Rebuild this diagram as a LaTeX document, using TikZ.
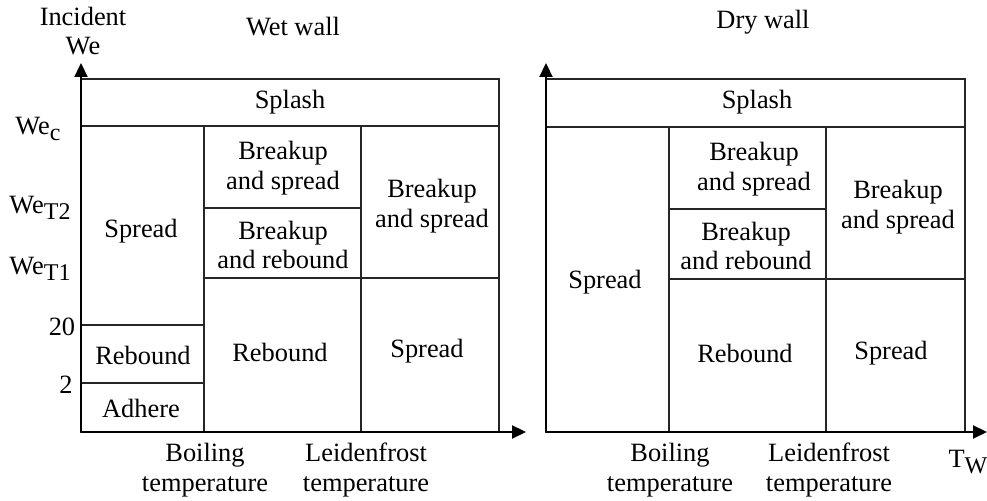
\documentclass[tikz,border=0pt]{standalone}
\usepackage{fontspec}
\setmainfont{Liberation Serif}
\usetikzlibrary{positioning, calc, arrows.meta}

\newcommand{\wesub}[2]{#1\raisebox{-0.55ex}{\fontsize{12}{12}\selectfont #2}}

\begin{document}
\begin{tikzpicture}[
			x=0.5pt, y=-0.5pt,
			region/.style={draw=black!85, line width=0.6pt},
			axis/.style={line width=1.1pt, -{Triangle[length=7pt,width=6.5pt]}},
			lbl/.style={font=\fontsize{13.2}{14.8}\selectfont, align=center, inner sep=0pt, yshift=-1pt}
			]
			
			\useasboundingbox (0,0) rectangle (987,501);
			
			% wet wall
			\coordinate (wo) at (81,432);
			\draw[region] (81,79) rectangle (499,432);
			\draw[region] (81,126) -- (499,126);
			\draw[region] (204,126) -- (204,432);
			\draw[region] (361,126) -- (361,432);
			\draw[region] (204,208) -- (361,208);
			\draw[region] (204,278) -- (499,278);
			\draw[region] (81,325) -- (204,325);
			\draw[region] (81,383) -- (204,383);
			\coordinate (wy) at (81,63);
			\coordinate (wx) at (526,432);
			\draw[axis] (wo) -- (wy);
			\draw[axis] (wo) -- (wx);
			
			\node[lbl] (wsplash) at (290,100) {Splash};
			\node[lbl] (wbs1) at (283,166) {Breakup\\and spread};
			\node[lbl] (wbr) at (283,243) {Breakup\\and rebound};
			\node[lbl] (wbs2) at (432,204) {Breakup\\and spread};
			\node[lbl] (wspread1) at (141,229) {Spread};
			\node[lbl] (wrebound1) at (143,353) {Rebound};
			\node[lbl] (wadhere) at (141,406) {Adhere};
			\node[lbl] (wrebound2) at (280,350) {Rebound};
			\node[lbl] (wspread2) at (427,349) {Spread};
			
			\node[lbl] (incident) at (83,29) {Incident\\We};
			\node[lbl] (wettitle) at (293,25) {Wet wall};
			\node[lbl] (wec) at (38,127) {\wesub{We}{c}};
			\node[lbl] (wet2) at (40,206) {\wesub{We}{T2}};
			\node[lbl] (wet1) at (40,267) {\wesub{We}{T1}};
			\node[lbl] (w20) at (62,325) {20};
			\node[lbl] (w2) at (66,383) {2};
			\node[lbl] (wboil) at (205,468) {Boiling\\temperature};
			\node[lbl] (wleid) at (366,468) {Leidenfrost\\temperature};
			
			% dry wall
			\coordinate (do) at (546,432);
			\draw[region] (546,79) rectangle (965,432);
			\draw[region] (546,127) -- (965,127);
			\draw[region] (669,127) -- (669,432);
			\draw[region] (826,127) -- (826,432);
			\draw[region] (669,209) -- (826,209);
			\draw[region] (669,279) -- (965,279);
			\coordinate (dy) at (546,63);
			\coordinate (dx) at (987,432);
			\draw[axis] (do) -- (dy);
			\draw[axis] (do) -- (dx);
			
			\node[lbl] (dsplash) at (757,100) {Splash};
			\node[lbl] (dspread1) at (605,280) {Spread};
			\node[lbl] (dbs1) at (754,167) {Breakup\\and spread};
			\node[lbl] (dbr) at (746,244) {Breakup\\and rebound};
			\node[lbl] (dbs2) at (898,205) {Breakup\\and spread};
			\node[lbl] (drebound) at (745,351) {Rebound};
			\node[lbl] (dspread2) at (891,351) {Spread};
			
			\node[lbl] (drytitle) at (763,20) {Dry wall};
			\node[lbl] (dboil) at (670,468) {Boiling\\temperature};
			\node[lbl] (dleid) at (829,468) {Leidenfrost\\temperature};
			\node[lbl] (tw) at (968,460) {\wesub{T}{W}};
			
		\end{tikzpicture}
\end{document}
